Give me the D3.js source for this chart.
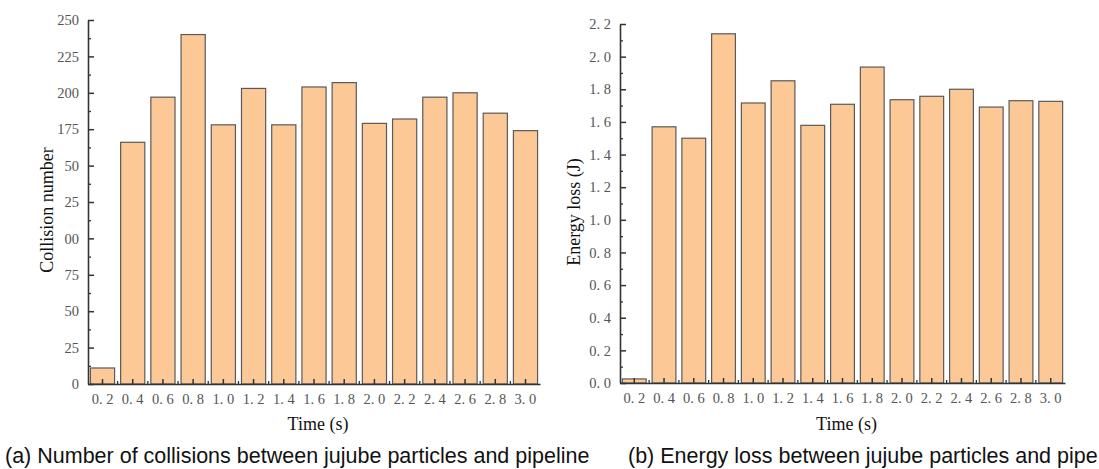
<!DOCTYPE html>
<html>
<head>
<meta charset="utf-8">
<script src="https://cdn.jsdelivr.net/npm/d3@7.9.0/dist/d3.min.js"></script>
<style>
  body { margin: 0; background: #fff; }
  .tick text { font-family: "Liberation Serif", "DejaVu Serif", serif; fill: #555; }
  .axis-title { font-family: "Liberation Serif", "DejaVu Serif", serif; font-size: 18px; fill: #111; }
  .caption { font-family: "Liberation Sans", Arial, sans-serif; font-size: 21.5px; fill: #111; }
</style>
</head>
<body>
<svg id="chart" width="1099" height="469"></svg>
<script>
const times = ['0. 2', '0. 4', '0. 6', '0. 8', '1. 0', '1. 2', '1. 4', '1. 6', '1. 8', '2. 0', '2. 2', '2. 4', '2. 6', '2. 8', '3. 0'];

const collisions = [11, 166, 197, 240, 178, 203, 178, 204, 207, 179, 182, 197, 200, 186, 174];
const collisionTicks = [0, 25, 50, 75, 100, 125, 150, 175, 200, 225, 250];
const collisionLabels = ['0', '25', '50', '75', '00', '25', '50', '175', '200', '225', '250'];

const energy = [0.025, 1.57, 1.50, 2.14, 1.716, 1.852, 1.579, 1.708, 1.936, 1.736, 1.757, 1.80, 1.691, 1.73, 1.726];
const energyTicks = [0, 0.2, 0.4, 0.6, 0.8, 1.0, 1.2, 1.4, 1.6, 1.8, 2.0, 2.2];
const energyLabels = ['0. 0', '0. 2', '0. 4', '0. 6', '0. 8', '1. 0', '1. 2', '1. 4', '1. 6', '1. 8', '2. 0', '2. 2'];

const svg = d3.select('#chart');

function drawPanel(opt) {
  const g = svg.append('g');
  const x = d3.scaleBand().domain(times).range([opt.x0, opt.x1]).paddingInner(0.2).paddingOuter(0.08);
  const y = d3.scaleLinear().domain([0, opt.max]).range([opt.y0, opt.y1]);

  g.selectAll('rect.bar')
    .data(opt.values)
    .join('rect')
    .attr('class', 'bar')
    .attr('x', (d, i) => x(times[i]))
    .attr('y', (d) => y(d))
    .attr('width', x.bandwidth())
    .attr('height', (d) => y(0) - y(d))
    .attr('fill', '#fcc896')
    .attr('stroke', '#5a5a5a')
    .attr('stroke-width', 1.2);

  // minor y ticks halfway between majors
  const minor = opt.ticks.slice(1).map((t, i) => (t + opt.ticks[i]) / 2);
  g.append('g')
    .attr('transform', `translate(${opt.x0},0)`)
    .call(d3.axisLeft(y).tickValues(minor).tickSize(-3).tickFormat(''))
    .call((a) => a.select('.domain').remove())
    .call((a) => a.selectAll('line').attr('stroke', '#333').attr('stroke-width', 1.3));

  g.append('g')
    .attr('transform', `translate(${opt.x0},0)`)
    .call(d3.axisLeft(y).tickValues(opt.ticks).tickSize(-6).tickSizeOuter(0).tickPadding(9)
      .tickFormat((d, i) => opt.labels[i]))
    .call((a) => a.select('.domain').attr('stroke', '#333').attr('stroke-width', 1.6))
    .call((a) => a.selectAll('line').attr('stroke', '#333').attr('stroke-width', 1.5))
    .call((a) => a.selectAll('text').attr('font-size', 14.5));

  // minor x ticks at band boundaries
  const bounds = times.slice(1).map((t, i) => (x(times[i]) + x.bandwidth() + x(t)) / 2);
  g.selectAll('line.xminor')
    .data(bounds)
    .join('line')
    .attr('class', 'xminor')
    .attr('x1', (d) => d).attr('x2', (d) => d)
    .attr('y1', opt.y0 - 3).attr('y2', opt.y0 + 1)
    .attr('stroke', '#333').attr('stroke-width', 1.3);

  g.append('g')
    .attr('transform', `translate(0,${opt.y0})`)
    .call(d3.axisBottom(x).tickSize(-5).tickSizeOuter(0).tickPadding(10))
    .call((a) => a.select('.domain').attr('stroke', '#333').attr('stroke-width', 1.6))
    .call((a) => a.selectAll('line').attr('stroke', '#333').attr('stroke-width', 1.5))
    .call((a) => a.selectAll('text').attr('font-size', 14.5));

  g.append('text')
    .attr('class', 'axis-title')
    .attr('text-anchor', 'middle')
    .attr('x', (opt.x0 + opt.x1) / 2 + 4)
    .attr('y', 430)
    .text('Time (s)');

  g.append('text')
    .attr('class', 'axis-title')
    .attr('text-anchor', 'middle')
    .attr('transform', `translate(${opt.ytx},${opt.ytc}) rotate(-90)`)
    .text(opt.ytitle);

  g.append('text')
    .attr('class', 'caption')
    .attr('x', opt.capx)
    .attr('y', 463)
    .text(opt.caption);
}

drawPanel({
  x0: 88, x1: 540, y0: 384, y1: 20, max: 250,
  values: collisions, ticks: collisionTicks, labels: collisionLabels,
  ytitle: 'Collision number', ytx: 53, ytc: 210,
  caption: '(a) Number of collisions between jujube particles and pipeline', capx: 5
});

drawPanel({
  x0: 620, x1: 1065, y0: 383, y1: 24, max: 2.2,
  values: energy, ticks: energyTicks, labels: energyLabels,
  ytitle: 'Energy loss (J)', ytx: 580, ytc: 212,
  caption: '(b) Energy loss between jujube particles and pipe', capx: 628
});
</script>
</body>
</html>
